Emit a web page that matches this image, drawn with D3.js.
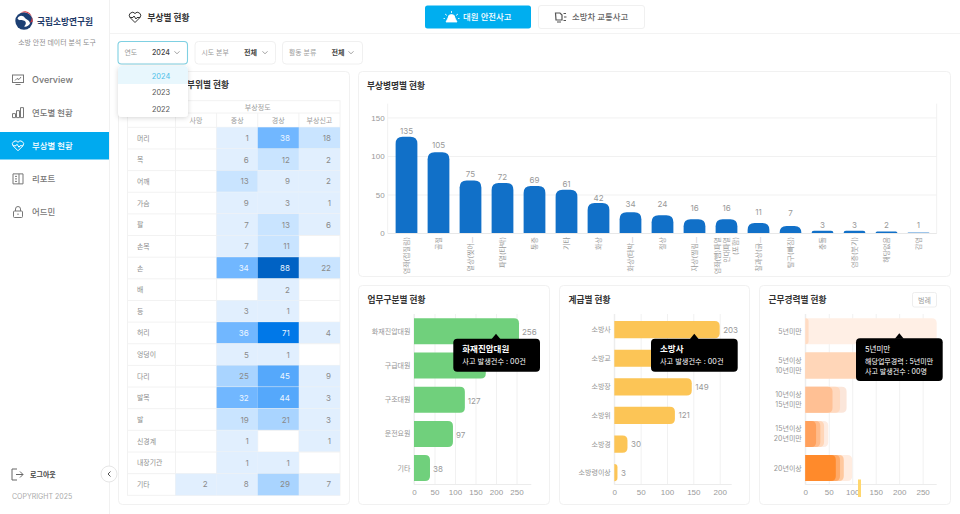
<!DOCTYPE html>
<html lang="ko">
<head>
<meta charset="utf-8">
<script src="https://cdn.jsdelivr.net/npm/d3@7/dist/d3.min.js"></script>
<style>
  html, body { margin: 0; padding: 0; background: #fff; overflow: hidden; }
  svg { display: block; font-family: Inter, "Noto Sans CJK KR", "Noto Sans", sans-serif; }
  text { fill: #8e8e8e; }
  .domain { display: none; }
  .tick line { stroke: #f1f1f1; }
</style>
</head>
<body>
<svg id="page" width="960" height="514"></svg>
<script>
// table
const bodyParts = ["머리", "목", "어깨", "가슴", "팔", "손목", "손", "배", "등", "허리", "엉덩이", "다리", "발목", "발", "신경계", "내장기관", "기타"];
const severities = ["사망", "중상", "경상", "부상신고"];
const deaths = [null, null, null, null, null, null, null, null, null, null, null, null, null, null, null, null, 2];
const severe = [1, 6, 13, 9, 7, 7, 34, null, 3, 36, 5, 25, 32, 19, 1, 1, 8];
const minor = [38, 12, 9, 3, 13, 11, 88, 2, 1, 71, 1, 45, 44, 21, null, 1, 29];
const reported = [18, 2, 2, 1, 6, null, 22, null, null, 4, null, 9, 3, 3, 1, null, 7];

// injury names, the bars are caught mid animation so heights and labels differ
const injuryNames = [["염좌(접질림)"], ["골절"], ["열상(찢어..."], ["파열(타박)"], ["통증"], ["기타"], ["화상"], ["화상(타박..."], ["절상"], ["자상(찔림..."], ["염좌(삠)파열", "인대파열", "(포함)"], ["찰과상(긁..."], ["탈구(빠짐)"], ["충돌"], ["염증(붓기)"], ["해당없음"], ["감염"]];
const injuryLabels = [135, 105, 75, 72, 69, 61, 42, 34, 24, 16, 16, 11, 7, 3, 3, 2, 1];
const injuryBars = [125, 105, 68, 65, 61, 56, 39, 27, 23, 18, 18, 13, 9, 3, 3, 2, 1];
const injuryLabelLevels = [129, 110, 73, 69, 65, 60, 41, 34, 34, 28, 28, 24, 22, 7, 7, 6, 6];
const injuryTicks = [0, 50, 100, 150];

const duties = ["화재진압대원", "구급대원", "구조대원", "운전요원", "기타"];
const dutyValues = [256, 175, 124, 95, 39];
const dutyLabels = [256, null, 127, 97, 38]; // second label sits behind the tooltip
const dutyTicks = [0, 50, 100, 150, 200, 250];

const ranks = ["소방사", "소방교", "소방장", "소방위", "소방경", "소방령이상"];
const rankValues = [200, 171, 147, 115, 25, 6];
const rankLabels = [203, null, 149, 121, 30, 3];
const rankTicks = [0, 50, 100, 150, 200];

const careers = [["5년미만"], ["5년이상", "10년미만"], ["10년이상", "15년미만"], ["15년이상", "20년미만"], ["20년이상"]];
// overlapping layers per career row, drawn outer to inner
const careerOuter = [280, 250, 88, 49, 100];
const careerSecond = [7, 250, 74, 40, 82];
const careerThird = [null, null, 58, 32, 74];
const careerInner = [null, null, null, 23, 65];
const careerTicks = [0, 50, 100, 150, 200, 250];

const navItems = ["Overview", "연도별 현황", "부상별 현황", "리포트", "어드민"];
const years = ["2024", "2023", "2022"];

const svg = d3.select("#page");

function label(g, x, y, str, size, color, weight, anchor) {
  return g.append("text")
    .attr("x", x).attr("y", y).text(str)
    .style("font-size", size + "px")
    .style("fill", color || "#8e8e8e")
    .style("font-weight", weight || 400)
    .attr("text-anchor", anchor || "start");
}

function card(x, y, w, h) {
  svg.append("rect").attr("x", x).attr("y", y).attr("width", w).attr("height", h)
    .attr("rx", 4).attr("fill", "#fff").attr("stroke", "#f1f1f1");
}

function chevron(g, x, y, color) {
  g.append("path").attr("d", `M${x - 2.5},${y - 1.2} L${x},${y + 1.3} L${x + 2.5},${y - 1.2}`)
    .attr("fill", "none").attr("stroke", color || "#888").attr("stroke-width", 0.8);
}

// right rounded bar
function hbar(x0, x1, y, h, r) {
  r = Math.min(r, x1 - x0);
  return `M${x0},${y} H${x1 - r} Q${x1},${y} ${x1},${y + r} V${y + h - r} Q${x1},${y + h} ${x1 - r},${y + h} H${x0} Z`;
}

// top rounded bar
function vbar(x, y, w, base, r) {
  r = Math.min(r, base - y);
  return `M${x},${base} V${y + r} Q${x},${y} ${x + r},${y} H${x + w - r} Q${x + w},${y} ${x + w},${y + r} V${base} Z`;
}

/* ---------- shell ---------- */
svg.append("rect").attr("width", 960).attr("height", 514).attr("fill", "#fff");
svg.append("line").attr("x1", 109).attr("x2", 960).attr("y1", 33.5).attr("y2", 33.5).attr("stroke", "#f3f3f3");
svg.append("line").attr("x1", 109.5).attr("x2", 109.5).attr("y1", 0).attr("y2", 514).attr("stroke", "#f1f1f1");

const side = svg.append("g");
const logo = side.append("g").attr("transform", "translate(24,21)");
logo.append("circle").attr("r", 8.7).attr("fill", "#1c3f73");
logo.append("path").attr("d", "M-3.5,-8 A8.7,8.7 0 0 1 8.7,0.5 L5.5,2 A5,5 0 0 0 -3.5,-8 Z").attr("fill", "#d8333c");
logo.append("path").attr("d", "M-6.5,-2.5 C-5,-6 -1,-6 1,-3 C3,-1 5.5,-1 6,2.5 C5,5 2,6 0,5.5 C3,3 2,0 -0.5,-0.5 C-3,-1 -5,0 -6.5,-2.5 Z").attr("fill", "#fff");
label(side, 37, 24.5, "국립소방연구원", 8.7, "#1f3a68", 700);
label(side, 57, 45, "소방 안전 데이터 분석 도구", 6.9, "#8c8c8c", 400, "middle");

side.append("rect").attr("x", 0).attr("y", 132).attr("width", 109).attr("height", 27.5).attr("fill", "#00aaef");
const navY = d3.scalePoint().domain(navItems).range([79.5, 212]);
navItems.forEach((name, i) => {
  const active = i === 2;
  const y = navY(name);
  label(side, 32, y + 3.2, name, i === 0 ? 9 : 8.4, active ? "#fff" : "#777", 500);
  const ic = side.append("g").attr("transform", `translate(18,${y})`)
    .attr("fill", "none").attr("stroke", active ? "#fff" : "#777").attr("stroke-width", 1);
  if (i === 0) {
    ic.append("rect").attr("x", -5.5).attr("y", -4.5).attr("width", 11).attr("height", 7.5);
    ic.append("path").attr("d", "M-2.5,5 H2.5 M-3,1 L-1,-1 L1,0 L3,-2.5");
  } else if (i === 1) {
    ic.append("path").attr("d", "M-5.5,5 V1 H-2.5 V5 Z M-1.5,5 V-2 H1.5 V5 Z M2.5,5 V-5 H5.5 V5 Z");
  } else if (i === 2) {
    ic.append("path").attr("d", "M0,5 L-5,0 A3,3 0 0 1 0,-3.5 A3,3 0 0 1 5,0 Z M-5,0 H-2 L-1,-1.5 L1,1.5 L2,0 H5");
  } else if (i === 3) {
    ic.append("path").attr("d", "M-5,-5 H5 V5 H-5 Z M1,-5 V5 M-3,-2.5 H-1 M-3,0 H-1 M-3,2.5 H-1");
  } else {
    ic.append("rect").attr("x", -4.5).attr("y", -1).attr("width", 9).attr("height", 6.5).attr("rx", 1);
    ic.append("path").attr("d", "M-2.5,-1 V-3 A2.5,2.5 0 0 1 2.5,-3 V-1 M0,1.5 V3");
  }
});
side.append("path").attr("d", "M17,469 H12 V480 H17 M16,474.5 H23 M20,471.5 L23,474.5 L20,477.5")
  .attr("fill", "none").attr("stroke", "#666").attr("stroke-width", 1);
label(side, 30, 477, "로그아웃", 7, "#444", 600);
label(side, 12, 499, "COPYRIGHT 2025", 7, "#aaa", 400);
side.append("circle").attr("cx", 109).attr("cy", 474).attr("r", 8).attr("fill", "#fff").attr("stroke", "#e6e6e6");
side.append("path").attr("d", "M110.5,471.5 L108,474 L110.5,476.5").attr("fill", "none").attr("stroke", "#555");

/* ---------- header ---------- */
const head = svg.append("g");
head.append("path").attr("d", "M135,22.5 L130,17.5 A3,3 0 0 1 135,13.5 A3,3 0 0 1 140,17.5 Z M130,17.5 H133 L134,16 L136,19 L137,17.5 H140")
  .attr("fill", "none").attr("stroke", "#333").attr("stroke-width", 1);
label(head, 147.5, 20.5, "부상별 현황", 8.7, "#333", 700);

head.append("rect").attr("x", 425).attr("y", 5.5).attr("width", 106).attr("height", 23).attr("rx", 2.5).attr("fill", "#00aeef");
head.append("path").attr("d", "M446,22 H457 L455,18 A3.5,3.5 0 0 0 448,18 Z M451.5,11 V13 M445,14 L447,15.5 M458,14 L456,15.5 M445,18.5 H443.5 M458,18.5 H459.5")
  .attr("fill", "#fff").attr("stroke", "#fff").attr("stroke-width", 0.8);
label(head, 463, 20, "대원 안전사고", 8.4, "#fff", 500);
head.append("rect").attr("x", 538.5).attr("y", 5.5).attr("width", 106).attr("height", 23).attr("rx", 2.5).attr("fill", "#fff").attr("stroke", "#f0f0f0");
head.append("path").attr("d", "M555.5,13 H560 L562,15 V20 H556 Z M557,22 H561 M563.5,13.5 H566 M564,17 H566.5 M563.5,20.5 H566")
  .attr("fill", "none").attr("stroke", "#555").attr("stroke-width", 1.2);
label(head, 572, 20, "소방차 교통사고", 8.4, "#666", 500);

/* ---------- filters ---------- */
const filters = svg.append("g");
function filterBox(x, w, name, value, vx, cx, active) {
  filters.append("rect").attr("x", x).attr("y", 41.5).attr("width", w).attr("height", 22.5).attr("rx", 3.5)
    .attr("fill", "#fff").attr("stroke", active ? "#7fd0e2" : "#f0f0f0").attr("stroke-width", active ? 1.1 : 1);
  label(filters, x + 6.5, 55, name, 6.9, "#9b9b9b");
  label(filters, vx, 55, value, 7.1, "#444", active ? 500 : 700);
  chevron(filters, cx, 52.5);
}
filterBox(118, 69.5, "연도", "2024", 152, 177, true);
filterBox(195, 80.5, "시도 본부", "전체", 244, 265, false);
filterBox(282.5, 80, "활동 분류", "전체", 331.5, 351, false);

/* ---------- injury table ---------- */
card(118.5, 71.5, 231, 433);
label(svg, 229, 88, "부위별 현황", 8.7, "#333", 700, "end");

const columns = [deaths, severe, minor, reported];
const colX = d3.scaleBand().domain(severities).range([175.5, 340]);
const rowY = d3.scaleBand().domain(bodyParts).range([127.3, 495.3]);
const shade = d3.scaleThreshold()
  .domain([10, 21, 30, 40, 60, 80])
  .range(["#e1effe", "#c9e4ff", "#a9d4ff", "#71b7ff", "#55a8fb", "#0078e8", "#0062c4"]);

const table = svg.append("g");
const gridColor = "#f2f2f2";
table.append("rect").attr("x", 127.5).attr("y", 100.7).attr("width", 212.5).attr("height", 394.6)
  .attr("fill", "#fff").attr("stroke", gridColor);
severities.forEach((sev, c) => {
  const x = colX(sev);
  label(table, x + colX.bandwidth() / 2, 123, sev, 7, "#9c9c9c", 400, "middle");
  table.append("line").attr("x1", x).attr("x2", x).attr("y1", c === 0 ? 100.7 : 113).attr("y2", 495.3).attr("stroke", gridColor);
});
table.append("line").attr("x1", 175.5).attr("x2", 340).attr("y1", 113).attr("y2", 113).attr("stroke", gridColor);
label(table, 257.7, 109.5, "부상정도", 7, "#9c9c9c", 400, "middle");

bodyParts.forEach((part, r) => {
  const y = rowY(part);
  table.append("line").attr("x1", 127.5).attr("x2", 340).attr("y1", y).attr("y2", y).attr("stroke", gridColor);
  label(table, 137, y + rowY.bandwidth() / 2 + 2.5, part, 6.9, "#8e8e8e");
  columns.forEach((col, c) => {
    const v = col[r];
    if (v === null) return;
    const x = colX(severities[c]);
    // the report column stays in its two pale shades
    const fill = c === 3 ? (v < 10 ? "#e1effe" : "#c9e4ff") : shade(v);
    table.append("rect").attr("x", x).attr("y", y).attr("width", colX.bandwidth()).attr("height", rowY.bandwidth()).attr("fill", fill);
    label(table, x + colX.bandwidth() - 9, y + rowY.bandwidth() / 2 + 3, v, 8, v >= 30 ? "#eef6ff" : "#8a8a8a", 400, "end");
  });
});

/* ---------- dropdown, sits above the table ---------- */
const defs = svg.append("defs");
const blur = defs.append("filter").attr("id", "soft").attr("x", "-20%").attr("y", "-20%").attr("width", "140%").attr("height", "150%");
blur.append("feDropShadow").attr("dx", 0).attr("dy", 1).attr("stdDeviation", 2.5).attr("flood-color", "#000").attr("flood-opacity", 0.16);
const drop = svg.append("g");
drop.append("rect").attr("x", 118).attr("y", 66).attr("width", 70).attr("height", 51).attr("rx", 4).attr("fill", "#fff").attr("filter", "url(#soft)");
drop.append("path").attr("d", "M118,84 V70 Q118,66 122,66 H184 Q188,66 188,70 V84 Z").attr("fill", "#e8f7fd");
const yearY = d3.scalePoint().domain(years).range([78.5, 111.5]);
years.forEach((yr, i) => label(drop, 161, yearY(yr), yr, 7.4, i === 0 ? "#4cc0e8" : "#555", 400, "middle"));

/* ---------- injury bar chart ---------- */
card(358.5, 71.5, 592, 205);
label(svg, 367, 88.5, "부상병명별 현황", 8.7, "#333", 700);

const ix = d3.scaleBand().domain(d3.range(injuryNames.length)).range([390.5, 934.5]).paddingInner(0.32).paddingOuter(0.16);
const iy = d3.scaleLinear().domain([0, 168]).range([233, 103.6]);
const injury = svg.append("g");
const iAxis = injury.append("g").attr("transform", "translate(387.7,0)")
  .call(d3.axisLeft(iy).tickValues(injuryTicks).tickSize(-549).tickPadding(3));
iAxis.selectAll("text").style("font-size", "8px").style("fill", "#999").attr("x", -3);
injury.append("line").attr("x1", 387.7).attr("x2", 387.7).attr("y1", 103.6).attr("y2", 233).attr("stroke", "#f1f1f1");
injury.append("line").attr("x1", 936.7).attr("x2", 936.7).attr("y1", 103.6).attr("y2", 233).attr("stroke", "#f1f1f1");
injury.append("line").attr("x1", 387.7).attr("x2", 936.7).attr("y1", 233.5).attr("y2", 233.5).attr("stroke", "#e8e8e8");

injury.selectAll("path.bar").data(injuryBars).join("path").attr("class", "bar")
  .attr("d", (d, i) => vbar(ix(i), iy(d), ix.bandwidth(), iy(0), 7))
  .attr("fill", (d, i) => i === 16 ? "#7fb2e3" : "#1170c8");
injury.selectAll("text.val").data(injuryLabels).join("text").attr("class", "val")
  .attr("x", (d, i) => ix(i) + ix.bandwidth() / 2)
  .attr("y", (d, i) => iy(injuryLabelLevels[i]))
  .attr("text-anchor", "middle").style("font-size", "8px").style("fill", "#999").text(d => d);
injuryNames.forEach((lines, i) => {
  const cx = ix(i) + ix.bandwidth() / 2;
  lines.forEach((line, k) => {
    const off = (k - (lines.length - 1) / 2) * 9;
    injury.append("text")
      .attr("transform", `translate(${cx + off + 2.5},237) rotate(-90)`)
      .attr("text-anchor", "end").style("font-size", "7px").style("fill", "#9a9a9a").text(line);
  });
});

/* ---------- bottom charts ---------- */
function horizontalChart(cfg) {
  card(cfg.cardX, 285.5, cfg.cardW, 219);
  label(svg, cfg.cardX + 9, 302.5, cfg.title, 8.7, "#333", 700);
  const g = svg.append("g");
  const x = d3.scaleLinear().domain([0, cfg.max]).range([cfg.x0, cfg.x1]);
  const y = d3.scaleBand().domain(d3.range(cfg.cats.length)).range(cfg.yRange).paddingInner(cfg.padding).paddingOuter(cfg.padding / 2);
  const axis = g.append("g").attr("transform", "translate(0,484)")
    .call(d3.axisBottom(x).tickValues(cfg.ticks).tickSize(-170).tickPadding(5));
  axis.selectAll("text").style("font-size", "8px").style("fill", "#9a9a9a");
  g.append("line").attr("x1", cfg.x0).attr("x2", cfg.x1).attr("y1", 484.5).attr("y2", 484.5).attr("stroke", "#ececec");
  g.append("line").attr("x1", cfg.x0).attr("x2", cfg.x0).attr("y1", 314).attr("y2", 484.5).attr("stroke", "#ececec");
  cfg.cats.forEach((c, i) => {
    const lines = Array.isArray(c) ? c : [c];
    lines.forEach((line, k) => {
      label(g, cfg.x0 - 3.5, y(i) + y.bandwidth() / 2 + 2.5 + (k - (lines.length - 1) / 2) * 10, line, 7, "#969696", 400, "end");
    });
  });
  return { g, x, y };
}

function tooltip(x, y, w, h, arrowX, lines) {
  const t = svg.append("g");
  t.append("path").attr("d", `M${arrowX - 4.5},${y + 0.5} L${arrowX},${y - 5} L${arrowX + 4.5},${y + 0.5} Z`).attr("fill", "#000");
  t.append("rect").attr("x", x).attr("y", y).attr("width", w).attr("height", h).attr("rx", 4).attr("fill", "#000");
  lines.forEach(l => label(t, x + 9, l.y, l.text, l.size, "#fff", l.weight));
}

// duty chart
const duty = horizontalChart({
  cardX: 358.5, cardW: 191, title: "업무구분별 현황", cats: duties,
  x0: 414, x1: 531.3, max: 286, ticks: dutyTicks, yRange: [314.2, 485.2], padding: 0.24
});
dutyValues.forEach((v, i) => {
  const by = duty.y(i), bh = duty.y.bandwidth();
  duty.g.append("path").attr("d", hbar(duty.x(0), duty.x(v), by, bh, 5)).attr("fill", "#70d07c");
  if (dutyLabels[i] !== null) label(duty.g, duty.x(v) + 3, by + bh / 2 + 4, dutyLabels[i], 8, "#999");
});
tooltip(453.3, 338.7, 86.7, 33, 496, [
  { text: "화재진압대원", y: 352, size: 8.5, weight: 700 },
  { text: "사고 발생건수 : 00건", y: 364, size: 7.2, weight: 400 }
]);

// rank chart
const rank = horizontalChart({
  cardX: 559.5, cardW: 190, title: "계급별 현황", cats: ranks,
  x0: 614.3, x1: 731.7, max: 222.8, ticks: rankTicks, yRange: [315.3, 487], padding: 0.4
});
rankValues.forEach((v, i) => {
  const by = rank.y(i), bh = rank.y.bandwidth();
  rank.g.append("path").attr("d", hbar(rank.x(0), rank.x(v), by, bh, 5)).attr("fill", "#fcc556");
  if (rankLabels[i] !== null) label(rank.g, rank.x(v) + 3.5, by + bh / 2 + 3, rankLabels[i], 8, "#999");
});
tooltip(651, 338.7, 86.7, 33, 694.3, [
  { text: "소방사", y: 352, size: 8.5, weight: 700 },
  { text: "사고 발생건수 : 00건", y: 364, size: 7.2, weight: 400 }
]);

// career chart
const career = horizontalChart({
  cardX: 759.5, cardW: 191, title: "근무경력별 현황", cats: careers,
  x0: 805.3, x1: 936.7, max: 280, ticks: careerTicks, yRange: [314.2, 485.2], padding: 0.24
});
const careerLayers = [
  { vals: careerOuter, fills: ["#ffefe5", "#ffd6b8", "#fbe6da", "#fdece2", "#ffece0"] },
  { vals: careerSecond, fills: ["#ffdcc4", "#ffd6b8", "#ffd9bf", "#ffd6b8", "#ffc89e"] },
  { vals: careerThird, fills: [null, null, "#ffc094", "#ffbc8c", "#ffaa68"] },
  { vals: careerInner, fills: [null, null, null, "#ffa05c", "#ff8a2b"] }
];
careerLayers.forEach(layer => {
  layer.vals.forEach((v, i) => {
    if (v === null) return;
    career.g.append("path")
      .attr("d", hbar(career.x(0), career.x(v), career.y(i), career.y.bandwidth(), 5))
      .attr("fill", layer.fills[i]);
  });
});
career.g.append("rect").attr("x", 858).attr("y", 479.5).attr("width", 3).attr("height", 17.5).attr("fill", "#ffd76e");
svg.append("rect").attr("x", 912.5).attr("y", 292.5).attr("width", 24).attr("height", 14.5).attr("rx", 2).attr("fill", "#fff").attr("stroke", "#eeeeee");
label(svg, 924.5, 302.5, "범례", 7, "#999", 400, "middle");
tooltip(856, 338.3, 86.7, 42.7, 899.3, [
  { text: "5년미만", y: 352, size: 7.5, weight: 400 },
  { text: "해당업무경력 : 5년미만", y: 364, size: 7, weight: 400 },
  { text: "사고 발생건수 : 00명", y: 374, size: 7, weight: 400 }
]);
</script>
</body>
</html>
